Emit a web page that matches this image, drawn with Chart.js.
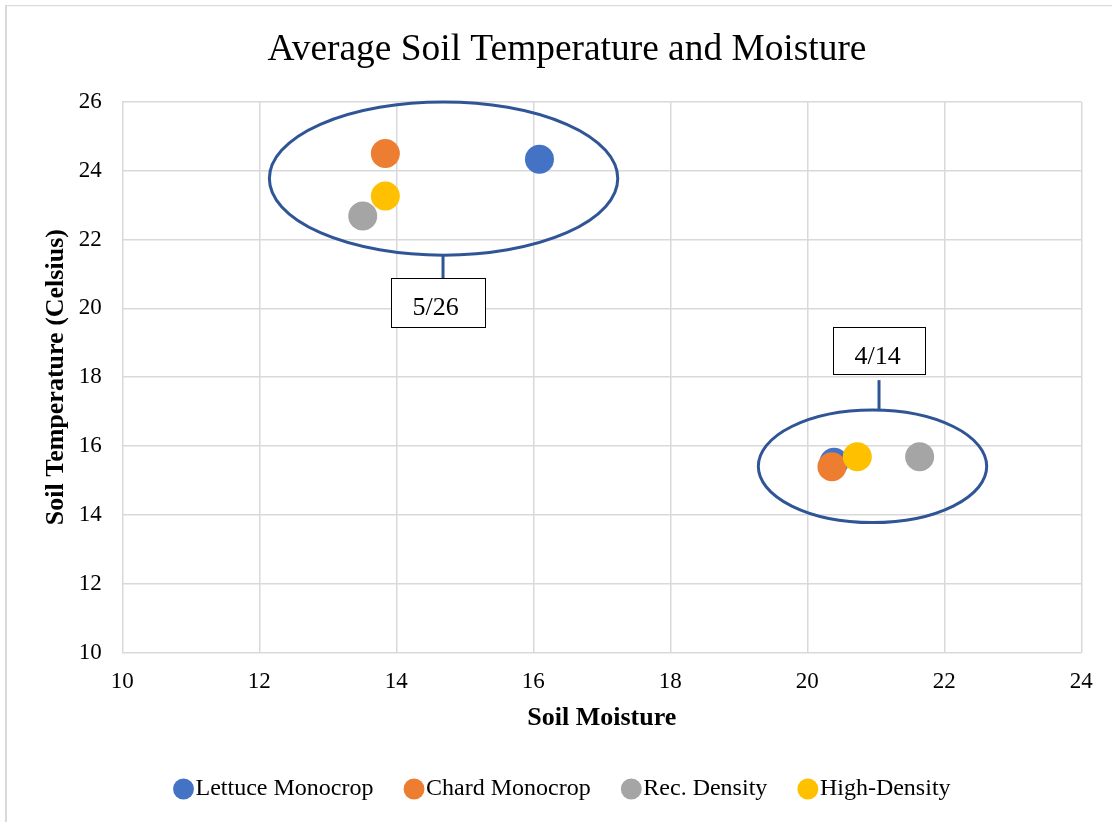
<!DOCTYPE html>
<html>
<head>
<meta charset="utf-8">
<title>Average Soil Temperature and Moisture</title>
<script src="https://cdn.jsdelivr.net/npm/chart.js@4.4.1/dist/chart.umd.min.js"></script>
<style>
  html, body { margin: 0; padding: 0; background: #ffffff; }
  #wrap { width: 1112px; height: 822px; }
</style>
</head>
<body>
<div id="wrap"><canvas id="chart" width="1112" height="822"></canvas></div>
<script>
// Treatments and their series colours
const seriesNames = ['Lettuce Monocrop', 'Chard Monocrop', 'Rec. Density', 'High-Density'];
const seriesColors = ['#4472C4', '#ED7D31', '#A5A5A5', '#FFC000'];

// Sampling dates (one group of points per date)
const sampleDates = ['5/26', '4/14'];

// Average soil moisture and soil temperature (Celsius) per treatment, 5/26
const moistureMay26    = [16.09, 13.84, 13.51, 13.84];
const temperatureMay26 = [24.33, 24.50, 22.68, 23.26];

// Average soil moisture and soil temperature (Celsius) per treatment, 4/14
const moistureApr14    = [20.39, 20.36, 21.64, 20.73];
const temperatureApr14 = [15.53, 15.40, 15.69, 15.69];

// Axis ranges and tick spacing
const xTickRange = [10, 24, 2];
const yTickRange = [10, 26, 2];

const FONT = '"Liberation Serif", "Times New Roman", serif';
Chart.defaults.font.family = FONT;
Chart.defaults.color = '#000000';

const datasets = seriesNames.map((name, i) => ({
  label: name,
  data: [
    { x: moistureMay26[i], y: temperatureMay26[i] },
    { x: moistureApr14[i], y: temperatureApr14[i] }
  ],
  backgroundColor: seriesColors[i],
  borderColor: seriesColors[i],
  borderWidth: 0,
  pointRadius: 14.5,
  pointHoverRadius: 14.5,
  // later series are painted over earlier ones
  order: seriesNames.length - i
}));

// Outer frame and white background
const chartFrame = {
  id: 'chartFrame',
  beforeDraw(chart) {
    const { ctx, width, height } = chart;
    ctx.save();
    ctx.fillStyle = '#ffffff';
    ctx.fillRect(0, 0, width, height);
    ctx.fillStyle = '#d9d9d9';
    ctx.fillRect(5, 5, width - 5, 1.2);
    ctx.fillRect(5, 5, 2, height - 5);
    ctx.restore();
  }
};

// Ellipses around each date's points, with a linked date label box
const dateCallouts = {
  id: 'dateCallouts',
  afterDatasetsDraw(chart, args, opts) {
    const { ctx } = chart;
    const xs = chart.scales.x, ys = chart.scales.y;
    ctx.save();
    opts.groups.forEach((g, i) => {
      const cx = xs.getPixelForValue(g.ellipse.cx);
      const cy = ys.getPixelForValue(g.ellipse.cy);
      const rx = Math.abs(xs.getPixelForValue(g.ellipse.cx + g.ellipse.rx) - cx);
      const ry = Math.abs(ys.getPixelForValue(g.ellipse.cy + g.ellipse.ry) - cy);
      ctx.strokeStyle = opts.lineColor;
      ctx.lineWidth = opts.lineWidth;
      ctx.beginPath();
      ctx.ellipse(cx, cy, rx, ry, 0, 0, Math.PI * 2);
      ctx.stroke();

      const lx = xs.getPixelForValue(g.link.x);
      ctx.beginPath();
      ctx.moveTo(lx, ys.getPixelForValue(g.link.from));
      ctx.lineTo(lx, ys.getPixelForValue(g.link.to));
      ctx.stroke();

      const bx0 = Math.round(xs.getPixelForValue(g.box.x0)) + 0.5;
      const bx1 = Math.round(xs.getPixelForValue(g.box.x1)) + 0.5;
      const by0 = Math.round(ys.getPixelForValue(g.box.top)) + 0.5;
      const by1 = Math.round(ys.getPixelForValue(g.box.bottom)) + 0.5;
      ctx.fillStyle = '#ffffff';
      ctx.fillRect(bx0, by0, bx1 - bx0, by1 - by0);
      ctx.strokeStyle = '#000000';
      ctx.lineWidth = 1;
      ctx.strokeRect(bx0, by0, bx1 - bx0, by1 - by0);

      ctx.fillStyle = '#000000';
      ctx.font = '26px ' + FONT;
      ctx.textAlign = 'left';
      ctx.textBaseline = 'alphabetic';
      ctx.fillText(sampleDates[i], bx0 + 21, by0 + 36.5);
    });
    ctx.restore();
  }
};

new Chart(document.getElementById('chart'), {
  type: 'scatter',
  data: { datasets },
  plugins: [chartFrame, dateCallouts],
  options: {
    responsive: false,
    animation: false,
    devicePixelRatio: 1,
    events: [],
    layout: { padding: { top: 10, left: 32, right: 10, bottom: 11 } },
    scales: {
      x: {
        type: 'linear',
        position: 'bottom',
        min: xTickRange[0],
        max: xTickRange[1],
        ticks: { stepSize: xTickRange[2], font: { size: 23 }, color: '#000000', padding: 15.4 },
        grid: { color: '#d9d9d9', lineWidth: 1.5, drawTicks: false },
        border: { display: false },
        title: {
          display: true,
          text: 'Soil Moisture',
          font: { size: 26, weight: 'bold' },
          color: '#000000',
          padding: { top: 0, bottom: 2.9 }
        },
        afterFit(scale) {
          scale.height = 84;
          scale.paddingRight = 30.7;
        }
      },
      y: {
        type: 'linear',
        position: 'left',
        min: yTickRange[0],
        max: yTickRange[1],
        ticks: { stepSize: yTickRange[2], font: { size: 23 }, color: '#000000', padding: 20.6 },
        grid: { color: '#d9d9d9', lineWidth: 1.5, drawTicks: false },
        border: { display: false },
        title: {
          display: true,
          text: 'Soil Temperature (Celsius)',
          font: { size: 26, weight: 'bold' },
          color: '#000000',
          padding: { top: 8.4, bottom: 0 }
        },
        afterFit(scale) {
          scale.width = 90.3;
        }
      }
    },
    plugins: {
      title: {
        display: true,
        text: 'Average Soil Temperature and Moisture',
        font: { size: 37.4, weight: 'normal' },
        color: '#000000',
        padding: { top: 17.3, bottom: 29.6 }
      },
      legend: {
        display: true,
        position: 'bottom',
        labels: {
          usePointStyle: true,
          pointStyle: 'circle',
          boxWidth: 0.1,
          boxHeight: 14.8,
          padding: 40.5,
          color: '#000000',
          font: { size: 24 },
          sort: (a, b) => a.datasetIndex - b.datasetIndex
        }
      },
      tooltip: { enabled: false },
      dateCallouts: {
        lineColor: '#2F5597',
        lineWidth: 3,
        groups: [
          {
            ellipse: { cx: 14.69, cy: 23.77, rx: 2.543, ry: 2.227 },
            link: { x: 14.682, from: 21.543, to: 20.866 },
            box: { x0: 13.918, x1: 15.295, top: 20.866, bottom: 19.443 }
          },
          {
            ellipse: { cx: 20.952, cy: 15.41, rx: 1.667, ry: 1.635 },
            link: { x: 21.047, from: 17.913, to: 17.045 },
            box: { x0: 20.371, x1: 21.718, top: 19.443, bottom: 18.087 }
          }
        ]
      }
    }
  }
});
</script>
</body>
</html>
